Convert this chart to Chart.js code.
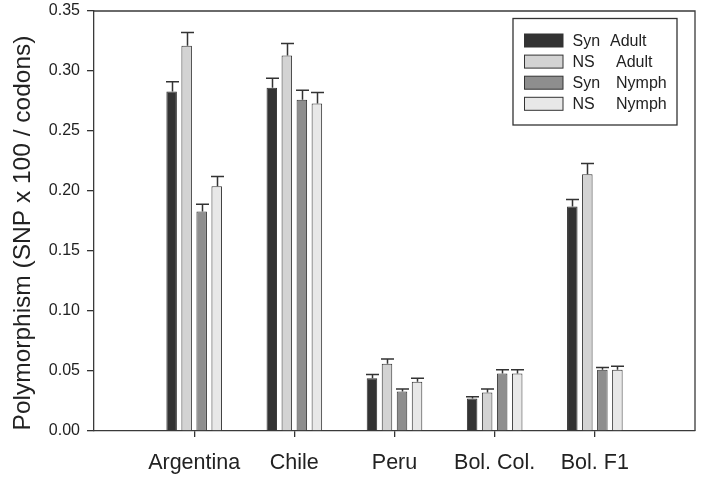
<!DOCTYPE html>
<html>
<head>
<meta charset="utf-8">
<script src="https://cdn.jsdelivr.net/npm/chart.js@4.4.1/dist/chart.umd.min.js"></script>
<style>
  html, body { margin: 0; padding: 0; background: #ffffff; }
  #wrap { width: 701px; height: 479px; position: relative; }
</style>
</head>
<body>
<div id="wrap"><canvas id="c" width="701" height="479"></canvas></div>
<script>
// ---- data ----
const categories = ['Argentina', 'Chile', 'Peru', 'Bol. Col.', 'Bol. F1'];
const seriesNames = ['Syn  Adult', 'NS   Adult', 'Syn   Nymph', 'NS   Nymph'];
const legendWords = [['Syn', 'Adult'], ['NS', 'Adult'], ['Syn', 'Nymph'], ['NS', 'Nymph']];
const synAdult   = [0.283, 0.286, 0.044, 0.027, 0.187];
const nsAdult    = [0.321, 0.313, 0.056, 0.032, 0.214];
const synNymph   = [0.183, 0.276, 0.033, 0.048, 0.051];
const nsNymph    = [0.204, 0.273, 0.041, 0.048, 0.051];
const synAdultErr = [0.008, 0.008, 0.003, 0.0015, 0.006];
const nsAdultErr  = [0.011, 0.010, 0.004, 0.003, 0.009];
const synNymphErr = [0.006, 0.008, 0.002, 0.003, 0.002];
const nsNymphErr  = [0.008, 0.009, 0.003, 0.003, 0.003];
const yTicks = [0.00, 0.05, 0.10, 0.15, 0.20, 0.25, 0.30, 0.35];
const yTitle = 'Polymorphism (SNP x 100 / codons)';

// ---- styles ----
const fills   = ['#333333', '#d3d3d3', '#8e8e8e', '#e8e8e8'];
const edge    = '#333333';
const FONT    = "'Liberation Sans', Arial, sans-serif";

const pad = v => [null, ...v, null];
const labels = ['', ...categories, ''];
const values = [synAdult, nsAdult, synNymph, nsNymph];
const errors = [synAdultErr, nsAdultErr, synNymphErr, nsNymphErr];

const datasets = values.map((v, i) => ({
  label: seriesNames[i],
  data: pad(v),
  errs: pad(errors[i]),
  backgroundColor: fills[i],
  borderColor: edge,
  borderWidth: 1,
  categoryPercentage: 0.6,
  barPercentage: 0.7
}));

const errorBars = {
  id: 'errorBars',
  afterDatasetsDraw(chart) {
    const ctx = chart.ctx;
    const ys = chart.scales.y;
    ctx.save();
    ctx.strokeStyle = '#333333';
    ctx.lineWidth = 1.5;
    chart.data.datasets.forEach((ds, i) => {
      const meta = chart.getDatasetMeta(i);
      meta.data.forEach((el, j) => {
        const v = ds.data[j], e = ds.errs[j];
        if (v == null || e == null) return;
        const x = Math.round(el.x) + 0.5;
        const y0 = ys.getPixelForValue(v);
        const y1 = ys.getPixelForValue(v + e);
        ctx.beginPath();
        ctx.moveTo(x, y0);
        ctx.lineTo(x, y1);
        ctx.moveTo(x - 6.5, y1);
        ctx.lineTo(x + 6.5, y1);
        ctx.stroke();
      });
    });
    ctx.restore();
  }
};

const frameAndLegend = {
  id: 'frameAndLegend',
  afterDraw(chart) {
    const ctx = chart.ctx;
    const a = chart.chartArea;
    ctx.save();
    ctx.strokeStyle = '#3a3a3a';
    ctx.lineWidth = 1.3;
    ctx.beginPath();
    ctx.moveTo(a.left, a.top);
    ctx.lineTo(a.right, a.top);
    ctx.lineTo(a.right, a.bottom);
    ctx.stroke();

    // y axis title
    ctx.save();
    ctx.translate(23.5, 233);
    ctx.rotate(-Math.PI / 2);
    ctx.font = '24.5px ' + FONT;
    ctx.fillStyle = '#222222';
    ctx.textAlign = 'center';
    ctx.textBaseline = 'middle';
    ctx.fillText(yTitle, 0, 0);
    ctx.restore();

    // legend box
    const bx = a.right - 182, by = a.top + 7.5, bw = 164, bh = 106.5;
    ctx.fillStyle = '#ffffff';
    ctx.fillRect(bx, by, bw, bh);
    ctx.strokeStyle = '#333333';
    ctx.lineWidth = 1.3;
    ctx.strokeRect(bx, by, bw, bh);
    ctx.font = '16px ' + FONT;
    ctx.textBaseline = 'middle';
    ctx.textAlign = 'left';
    const secondDx = [97, 103, 103, 103];
    for (let i = 0; i < 4; i++) {
      const cy = by + 22 + i * 21.1;
      ctx.fillStyle = fills[i];
      ctx.fillRect(bx + 11.5, cy - 6.5, 38.5, 13);
      ctx.strokeStyle = edge;
      ctx.lineWidth = 1;
      ctx.strokeRect(bx + 11.5, cy - 6.5, 38.5, 13);
      ctx.fillStyle = '#222222';
      ctx.fillText(legendWords[i][0], bx + 59.5, cy + 1);
      ctx.fillText(legendWords[i][1], bx + secondDx[i], cy + 1);
    }
    ctx.restore();
  }
};

new Chart(document.getElementById('c'), {
  type: 'bar',
  data: { labels, datasets },
  options: {
    responsive: false,
    animation: false,
    events: [],
    layout: { padding: { top: 11, right: 6, left: 0, bottom: 0 } },
    plugins: { legend: { display: false }, tooltip: { enabled: false } },
    scales: {
      x: {
        type: 'category',
        offset: false,
        afterFit: s => { s.height = 48; s.paddingLeft = 0; s.paddingRight = 0; },
        grid: {
          display: true,
          offset: false,
          drawOnChartArea: false,
          drawTicks: true,
          tickLength: 6,
          lineWidth: 1.3,
          color: c => (c.index === 0 || c.index === labels.length - 1) ? 'rgba(0,0,0,0)' : '#333333'
        },
        border: { display: true, color: '#3a3a3a', width: 1.3 },
        ticks: {
          autoSkip: false,
          maxRotation: 0,
          padding: 13,
          color: '#222222',
          font: { family: FONT, size: 21.5 }
        }
      },
      y: {
        min: 0,
        max: 0.35,
        afterFit: s => { s.width = 94; s.paddingTop = 0; s.paddingBottom = 0; },
        afterBuildTicks: s => { s.ticks = yTicks.map(v => ({ value: v })); },
        grid: {
          display: true,
          drawOnChartArea: false,
          drawTicks: true,
          tickLength: 7,
          lineWidth: 1.3,
          color: '#333333'
        },
        border: { display: true, color: '#3a3a3a', width: 1.3 },
        ticks: {
          padding: 7,
          color: '#222222',
          font: { family: FONT, size: 16 },
          callback: v => Number(v).toFixed(2)
        }
      }
    }
  },
  plugins: [errorBars, frameAndLegend]
});
</script>
</body>
</html>
